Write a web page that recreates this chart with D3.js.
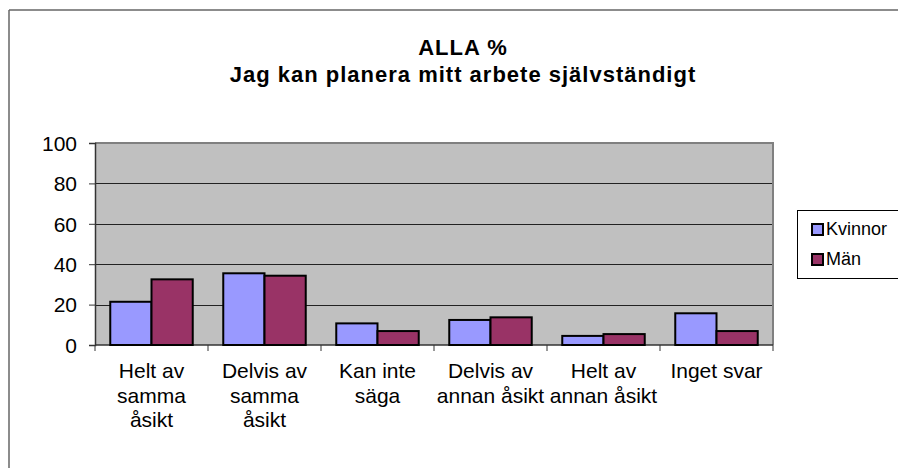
<html>
<head>
<style>
  body { margin: 0; background: #fff; }
  svg text { font-family: "Liberation Sans", Arial, sans-serif; fill: #000; }
  .title { font-weight: bold; font-size: 22px; letter-spacing: 1px; }
  .tick-lbl { font-size: 21px; }
  .leg-lbl { font-size: 18px; }
</style>
<script src="https://d3js.org/d3.v7.min.js"></script>
</head>
<body>
<svg width="898" height="468"></svg>
<script>
const categories = [
  ["Helt av", "samma", "åsikt"],
  ["Delvis av", "samma", "åsikt"],
  ["Kan inte", "säga"],
  ["Delvis av", "annan åsikt"],
  ["Helt av", "annan åsikt"],
  ["Inget svar"]
];
const seriesNames = ["Kvinnor", "Män"];
const kvinnor = [21.4, 35.5, 10.7, 12.4, 4.5, 15.7];
const man = [32.5, 34.3, 6.9, 13.7, 5.4, 6.9];
const yTicks = [0, 20, 40, 60, 80, 100];
const colors = ["#9999FF", "#993366"];

const svg = d3.select("svg");
const plot = { left: 95, right: 773, top: 143, bottom: 345 };

// outer frame
svg.append("line").attr("x1", 9).attr("x2", 898).attr("y1", 10).attr("y2", 10)
  .attr("stroke", "#666").attr("stroke-width", 1.5);
svg.append("line").attr("x1", 9).attr("x2", 9).attr("y1", 10).attr("y2", 468)
  .attr("stroke", "#666").attr("stroke-width", 1.5);

// title
svg.append("text").attr("class", "title").attr("x", 463).attr("y", 55)
  .attr("text-anchor", "middle").text("ALLA %");
svg.append("text").attr("class", "title").attr("x", 463).attr("y", 82)
  .attr("text-anchor", "middle").text("Jag kan planera mitt arbete självständigt");

const idx = d3.range(categories.length);
const x = d3.scaleBand().domain(idx).range([plot.left, plot.right]);
const y = d3.scaleLinear().domain([0, 100]).range([plot.bottom, plot.top]);

svg.append("rect").attr("x", plot.left).attr("y", plot.top)
  .attr("width", plot.right - plot.left).attr("height", plot.bottom - plot.top)
  .attr("fill", "#C0C0C0");

// gridlines
svg.append("g").selectAll("line").data(yTicks.filter(t => t > 0 && t < 100)).enter()
  .append("line")
  .attr("x1", plot.left).attr("x2", plot.right)
  .attr("y1", d => Math.round(y(d)) + 0.5).attr("y2", d => Math.round(y(d)) + 0.5)
  .attr("stroke", "#222").attr("stroke-width", 1);

// top & right border
svg.append("path")
  .attr("d", `M${plot.left},${plot.top}H${plot.right}V${plot.bottom}`)
  .attr("fill", "none").attr("stroke", "#808080").attr("stroke-width", 2);

// y axis
const yAxis = svg.append("g").attr("transform", `translate(${plot.left},0)`)
  .call(d3.axisLeft(y).tickValues(yTicks).tickSize(6).tickPadding(12));
yAxis.select(".domain").attr("stroke", "#333").attr("stroke-width", 1.5);
yAxis.selectAll(".tick line").attr("stroke", "#333");
yAxis.selectAll(".tick text").attr("class", "tick-lbl").attr("font-size", null)
  .attr("font-family", null).attr("dy", "0.35em");

// x axis (boundary ticks)
const xb = svg.append("g");
xb.append("line").attr("x1", plot.left).attr("x2", plot.right)
  .attr("y1", plot.bottom).attr("y2", plot.bottom).attr("stroke", "#333").attr("stroke-width", 1.5);
xb.selectAll("line.tk").data(d3.range(categories.length + 1)).enter().append("line")
  .attr("class", "tk")
  .attr("x1", d => plot.left + d * x.step()).attr("x2", d => plot.left + d * x.step())
  .attr("y1", plot.bottom).attr("y2", plot.bottom + 6).attr("stroke", "#333");

// bars
const inner = d3.scaleBand().domain([0, 1]).range([0, x.bandwidth()]).paddingOuter(0.37).paddingInner(0);
[kvinnor, man].forEach((vals, s) => {
  svg.append("g").selectAll("rect").data(vals).enter().append("rect")
    .attr("x", (d, i) => x(i) + inner(s))
    .attr("y", d => y(d))
    .attr("width", inner.bandwidth())
    .attr("height", d => y(0) - y(d))
    .attr("fill", colors[s])
    .attr("stroke", "#000").attr("stroke-width", 2);
});

// category labels
const lbl = svg.append("g").selectAll("text").data(categories).enter().append("text")
  .attr("class", "tick-lbl").attr("text-anchor", "middle")
  .attr("x", (d, i) => x(i) + x.bandwidth() / 2).attr("y", 378);
lbl.selectAll("tspan").data(d => d).enter().append("tspan")
  .attr("x", function () { return d3.select(this.parentNode).attr("x"); })
  .attr("dy", (d, i) => i === 0 ? 0 : 24.5).text(d => d);

// legend
const lg = svg.append("g");
lg.append("rect").attr("x", 797.5).attr("y", 210.5).attr("width", 110).attr("height", 68)
  .attr("fill", "#fff").attr("stroke", "#000").attr("stroke-width", 1);
seriesNames.forEach((n, i) => {
  const by = 235 + i * 30;
  lg.append("rect").attr("x", 812).attr("y", by - 11).attr("width", 11).attr("height", 11)
    .attr("fill", colors[i]).attr("stroke", "#000").attr("stroke-width", 2);
  lg.append("text").attr("class", "leg-lbl").attr("x", 826).attr("y", by).text(n);
});
</script>
</body>
</html>
